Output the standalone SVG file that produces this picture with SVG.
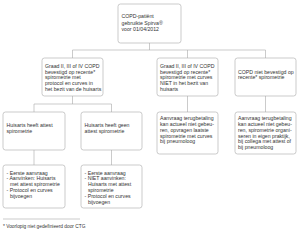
<svg xmlns="http://www.w3.org/2000/svg" width="300" height="231" viewBox="0 0 300 231">
<style>
.box{fill:#fff;stroke:#a8a8a8;stroke-width:0.6}
.ln{fill:none;stroke:#a8a8a8;stroke-width:0.6}
text{font-family:"Liberation Sans",Arial,sans-serif;font-size:5.2px;fill:#333}
.fn{font-size:4.8px}
</style>
<rect width="300" height="231" fill="#fff"/>
<g id="connectors">
<path class="ln" d="M149.5,43V50M72.5,50H265.5M72.5,50V58M187.5,50V58M265.5,50V58"/>
<path class="ln" d="M72.5,96V104M34,104H111.5M34,104V112M111.5,104V112"/>
<path class="ln" d="M187.5,96V112M265.5,96V112"/>
<path class="ln" d="M34,150V165M111.5,150V165"/>
</g>
<g id="n1">
<rect class="box" x="118" y="4" width="63" height="39" rx="2.5"/>
<text x="121.5" y="18">COPD-patiënt</text>
<text x="121.5" y="24.6">gebruikte Spirva®</text>
<text x="121.5" y="31.2">voor 01/04/2012</text>
</g>
<g id="n2">
<rect class="box" x="42" y="58" width="61" height="38" rx="2.5"/>
<text x="45" y="67.8">Graad II, III of IV COPD</text>
<text x="45" y="73.6">bevestigd op recente*</text>
<text x="45" y="79.4">spirometrie met</text>
<text x="45" y="85.2">protocol en curves in</text>
<text x="45" y="91">het bezit van de huisarts</text>
</g>
<g id="n3">
<rect class="box" x="157" y="58" width="61" height="38" rx="2.5"/>
<text x="160" y="67.8">Graad II, III of IV COPD</text>
<text x="160" y="73.6">bevestigd op recente*</text>
<text x="160" y="79.4">spirometrie met curves</text>
<text x="160" y="85.2">NIET in het bezit van</text>
<text x="160" y="91">huisarts</text>
</g>
<g id="n4">
<rect class="box" x="235" y="58" width="61" height="38" rx="2.5"/>
<text x="238" y="73.6">COPD niet bevestigd op</text>
<text x="238" y="79.4">recente* spirometrie</text>
</g>
<g id="n5">
<rect class="box" x="3" y="112" width="62" height="38" rx="2.5"/>
<text x="6.5" y="126.8">Huisarts heeft attest</text>
<text x="6.5" y="132.6">spirometrie</text>
</g>
<g id="n6">
<rect class="box" x="81" y="112" width="61" height="38" rx="2.5"/>
<text x="84.5" y="126.8">Huisarts heeft geen</text>
<text x="84.5" y="132.6">attest spirometrie</text>
</g>
<g id="n7">
<rect class="box" x="157" y="112" width="61" height="42" rx="2.5"/>
<text x="160" y="120.2">Aanvraag terugbetaling</text>
<text x="160" y="126">kan actueel niet gebeu-</text>
<text x="160" y="131.8">ren, opvragen laatste</text>
<text x="160" y="137.6">spirometrie met curves</text>
<text x="160" y="143.4">bij pneumoloog</text>
</g>
<g id="n8">
<rect class="box" x="235" y="112" width="61" height="42" rx="2.5"/>
<text x="238" y="120.2">Aanvraag terugbetaling</text>
<text x="238" y="126">kan actueel niet gebeu-</text>
<text x="238" y="131.8">ren, spirometrie organi-</text>
<text x="238" y="137.6">seren in eigen praktijk,</text>
<text x="238" y="143.4">bij collega met attest of</text>
<text x="238" y="149.2">bij pneumoloog</text>
</g>
<g id="n9">
<rect class="box" x="3" y="165" width="62" height="43" rx="2.5"/>
<text x="6.5" y="174.5">- Eerste aanvraag</text>
<text x="6.5" y="180.3">- Aanvinken: Huisarts</text>
<text x="9.9" y="186.1">met attest spirometrie</text>
<text x="6.5" y="191.9">- Protocol en curves</text>
<text x="9.9" y="197.7">bijvoegen</text>
</g>
<g id="n10">
<rect class="box" x="81" y="165" width="61" height="43" rx="2.5"/>
<text x="84.5" y="174.5">- Eerste aanvraag</text>
<text x="84.5" y="180.3">- NIET aanvinken:</text>
<text x="87.9" y="186.1">Huisarts met attest</text>
<text x="87.9" y="191.9">spirometrie</text>
<text x="84.5" y="197.7">- Protocol en curves</text>
<text x="87.9" y="203.5">bijvoegen</text>
</g>
<g id="footnote">
<line class="ln" x1="3" y1="219" x2="80" y2="219"/>
<text class="fn" x="3" y="228.3">* Voorlopig niet gedefinieerd door CTG</text>
</g>
</svg>
